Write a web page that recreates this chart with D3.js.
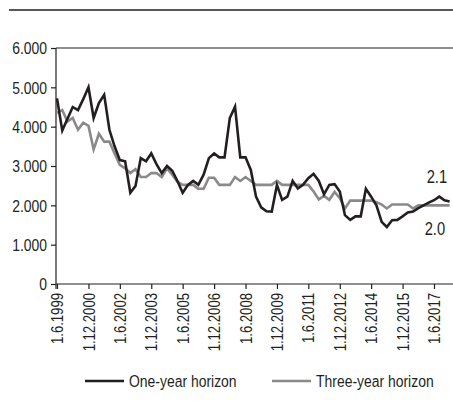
<!DOCTYPE html>
<html>
<head>
<meta charset="utf-8">
<script src="https://cdn.jsdelivr.net/npm/d3@7"></script>
<style>
  html, body { margin: 0; padding: 0; background: #fff; }
  svg { display: block; }
  text { font-family: "Liberation Sans", Arial, sans-serif; fill: #231f20; }
</style>
</head>
<body>
<svg id="chart" width="453" height="418"></svg>
<script>
// Quarterly inflation expectations, starting June 1999
const startDate = new Date(1999, 5, 1);

const oneYear = [
  4.72, 3.90, 4.20, 4.50, 4.42, 4.70, 5.00, 4.22, 4.60, 4.81,
  3.92, 3.50, 3.15, 3.12, 2.32, 2.49, 3.20, 3.12, 3.32, 3.05,
  2.82, 3.00, 2.88, 2.62, 2.32, 2.52, 2.62, 2.52, 2.78, 3.20,
  3.32, 3.22, 3.22, 4.22, 4.51, 3.22, 3.22, 2.90, 2.22, 1.95,
  1.85, 1.84, 2.52, 2.14, 2.22, 2.62, 2.43, 2.52, 2.69, 2.80,
  2.62, 2.28, 2.52, 2.54, 2.35, 1.75, 1.63, 1.72, 1.72, 2.42,
  2.22, 2.00, 1.58, 1.45, 1.62, 1.63, 1.72, 1.82, 1.84, 1.93,
  2.00, 2.07, 2.13, 2.22, 2.13, 2.10
];

const threeYear = [
  4.35, 4.42, 4.13, 4.22, 3.92, 4.10, 4.02, 3.42, 3.82, 3.62,
  3.62, 3.32, 3.03, 2.94, 2.82, 2.92, 2.72, 2.72, 2.82, 2.82,
  2.72, 2.94, 2.78, 2.60, 2.52, 2.52, 2.52, 2.42, 2.42, 2.70,
  2.70, 2.52, 2.52, 2.52, 2.72, 2.62, 2.72, 2.62, 2.52, 2.52,
  2.52, 2.52, 2.62, 2.52, 2.52, 2.52, 2.52, 2.52, 2.52, 2.35,
  2.15, 2.24, 2.14, 2.34, 2.18, 1.92, 2.12, 2.12, 2.12, 2.12,
  2.12, 2.08, 2.02, 1.92, 2.02, 2.02, 2.02, 2.02, 1.92, 2.00,
  2.00, 2.00, 2.00, 2.00, 2.00, 2.00
];

const yTicks = [0, 1, 2, 3, 4, 5, 6];
const yTickLabels = ["0", "1.000", "2.000", "3.000", "4.000", "5.000", "6.000"];
const xTickLabels = ["1.6.1999", "1.12.2000", "1.6.2002", "1.12.2003", "1.6.2005",
  "1.12.2006", "1.6.2008", "1.12.2009", "1.6.2011", "1.12.2012", "1.6.2014",
  "1.12.2015", "1.6.2017"];
const seriesNames = ["One-year horizon", "Three-year horizon"];
const endLabels = ["2.1", "2.0"];

const ink = "#231f20";
const colors = ["#231f20", "#8a8a8a"];
const narrow = "scale(0.82,1)";   // condensed lettering

const parseTick = d3.timeParse("%-d.%-m.%Y");
const tickDates = xTickLabels.map(parseTick);
const dates = oneYear.map((_, i) => d3.timeMonth.offset(startDate, 3 * i));

const svg = d3.select("#chart");

const x = d3.scaleTime()
  .domain([tickDates[0], tickDates[tickDates.length - 1]])
  .range([57, 434]);
const y = d3.scaleLinear().domain([0, 6]).range([284, 48]);

// top rule
svg.append("line")
  .attr("x1", 9).attr("x2", 453).attr("y1", 10).attr("y2", 10)
  .attr("stroke", ink).attr("stroke-width", 1.5);

// top gridline at the maximum
svg.append("line")
  .attr("x1", 56).attr("x2", 453).attr("y1", y(6)).attr("y2", y(6))
  .attr("stroke", ink).attr("stroke-width", 1.2);

// y axis
const yAxis = d3.axisLeft(y)
  .tickValues(yTicks)
  .tickSize(5)
  .tickFormat((d, i) => yTickLabels[i]);
const gy = svg.append("g").attr("transform", "translate(56,0)").call(yAxis);
gy.select(".domain").attr("stroke", ink).attr("stroke-width", 1.2)
  .attr("d", `M0,${y(6)}V${y(0) + 5}`);
gy.selectAll(".tick line").attr("stroke", ink).attr("stroke-width", 1.2);
gy.selectAll(".tick text")
  .style("font-size", "17px")
  .attr("fill", ink)
  .attr("text-anchor", "end")
  .attr("x", 0).attr("y", 0)
  .attr("dy", "0.35em")
  .attr("transform", `translate(-9,0) ${narrow}`);

// x axis
const xAxis = d3.axisBottom(x)
  .tickValues(tickDates)
  .tickSize(5)
  .tickFormat((d, i) => xTickLabels[i]);
const gx = svg.append("g").attr("transform", `translate(0,${y(0)})`).call(xAxis);
gx.select(".domain").attr("stroke", ink).attr("stroke-width", 1.2)
  .attr("d", `M56,0H453`);
gx.selectAll(".tick line").attr("stroke", ink).attr("stroke-width", 1.2);
gx.selectAll(".tick text")
  .style("font-size", "16px")
  .attr("fill", ink)
  .attr("text-anchor", "end")
  .attr("x", 0).attr("y", 0)
  .attr("dy", "0.35em")
  .attr("transform", `translate(0,9) rotate(-90) ${narrow}`);

// series lines
const line = d3.line()
  .x((d, i) => x(dates[i]))
  .y(d => y(d));

[threeYear, oneYear].forEach((s, k) => {
  svg.append("path")
    .datum(s)
    .attr("fill", "none")
    .attr("stroke", k === 0 ? colors[1] : colors[0])
    .attr("stroke-width", 2.6)
    .attr("stroke-linejoin", "miter")
    .attr("d", line);
});

// end-value labels
const lastX = x(dates[dates.length - 1]);
svg.append("text")
  .attr("transform", `translate(${lastX - 23},${y(oneYear[oneYear.length - 1]) - 18}) ${narrow}`)
  .style("font-size", "18px")
  .text(endLabels[0]);
svg.append("text")
  .attr("transform", `translate(${lastX - 25},${y(threeYear[threeYear.length - 1]) + 30}) ${narrow}`)
  .style("font-size", "18px")
  .text(endLabels[1]);

// legend
const legend = svg.append("g").attr("transform", "translate(0,381)");
const legendPos = [85, 272];
seriesNames.forEach((name, i) => {
  const g = legend.append("g").attr("transform", `translate(${legendPos[i]},0)`);
  g.append("line")
    .attr("x1", 0).attr("x2", 39).attr("y1", 0).attr("y2", 0)
    .attr("stroke", colors[i]).attr("stroke-width", 2.6);
  g.append("text")
    .attr("transform", `translate(44,0) ${narrow}`)
    .attr("dy", "0.35em")
    .style("font-size", "17px")
    .text(name);
});
</script>
</body>
</html>
